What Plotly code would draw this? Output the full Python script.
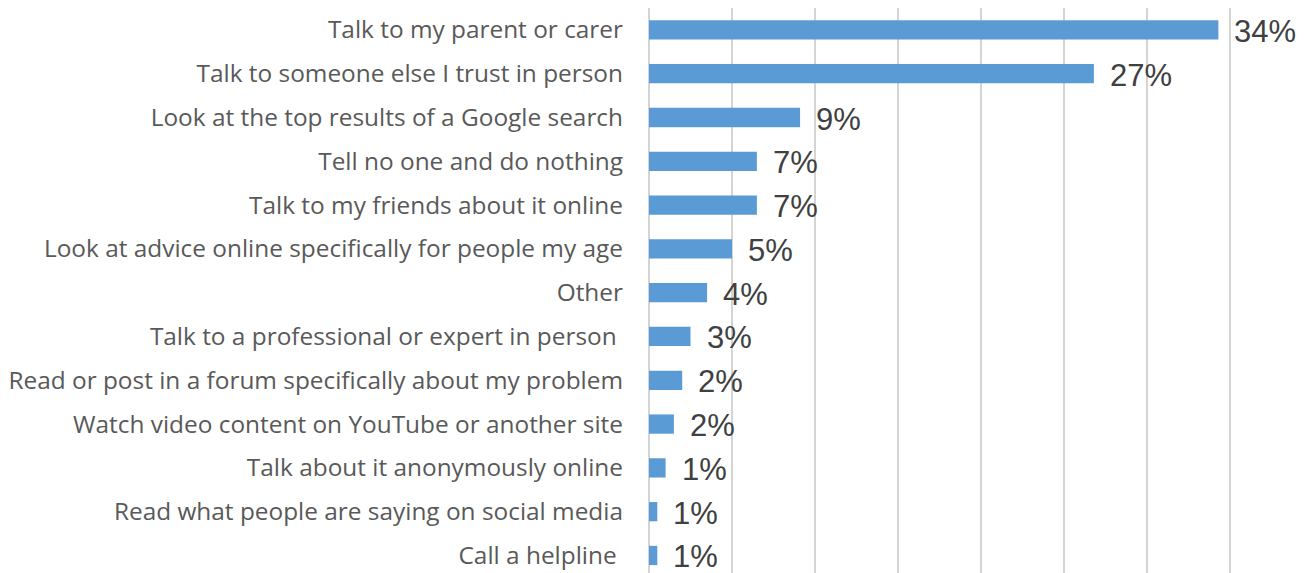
import plotly.graph_objects as go

categories = [
    "Talk to my parent or carer",
    "Talk to someone else I trust in person",
    "Look at the top results of a Google search",
    "Tell no one and do nothing",
    "Talk to my friends about it online",
    "Look at advice online specifically for people my age",
    "Other",
    "Talk to a professional or expert in person\u00a0",
    "Read or post in a forum specifically about my problem",
    "Watch video content on YouTube or another site",
    "Talk about it anonymously online",
    "Read what people are saying on social media",
    "Call a helpline\u00a0",
]
values = [0.343, 0.268, 0.091, 0.065, 0.065, 0.050, 0.035, 0.025, 0.020, 0.015, 0.010, 0.005, 0.005]
value_labels = ["34%", "27%", "9%", "7%", "7%", "5%", "4%", "3%", "2%", "2%", "1%", "1%", "1%"]

fig = go.Figure(
    go.Bar(
        x=values,
        y=categories,
        orientation="h",
        width=0.44,
        marker=dict(color="#5B9BD5", line=dict(width=0)),
        hoverinfo="skip",
    )
)

for v, c, t in zip(values, categories, value_labels):
    fig.add_annotation(
        x=v, y=c, text=t, showarrow=False, xanchor="left", yanchor="middle",
        xshift=14, yshift=-1.5,
        font=dict(family="Liberation Sans, Arial, sans-serif", size=31, color="#404040"),
    )

fig.update_layout(
    width=1315,
    height=573,
    margin=dict(l=649, r=1, t=8, b=0),
    paper_bgcolor="white",
    plot_bgcolor="white",
    showlegend=False,
    xaxis=dict(
        range=[0, 0.4006],
        tick0=0,
        dtick=0.05,
        showticklabels=False,
        showgrid=True,
        gridcolor="#D4D4D4",
        gridwidth=1.5,
        zeroline=True,
        zerolinecolor="#D4D4D4",
        zerolinewidth=1.5,
        showline=False,
        fixedrange=True,
    ),
    yaxis=dict(
        categoryorder="array",
        categoryarray=categories,
        range=[12.4, -0.5],
        showgrid=False,
        ticks="",
        ticklabelstandoff=25,
        tickfont=dict(family="Open Sans, sans-serif", size=24.4, color="#595959"),
        fixedrange=True,
    ),
)

fig.write_html(
    "out.html",
    config={"displayModeBar": False},
    post_script="document.body.style.margin='0';document.body.style.overflow='hidden';",
)
